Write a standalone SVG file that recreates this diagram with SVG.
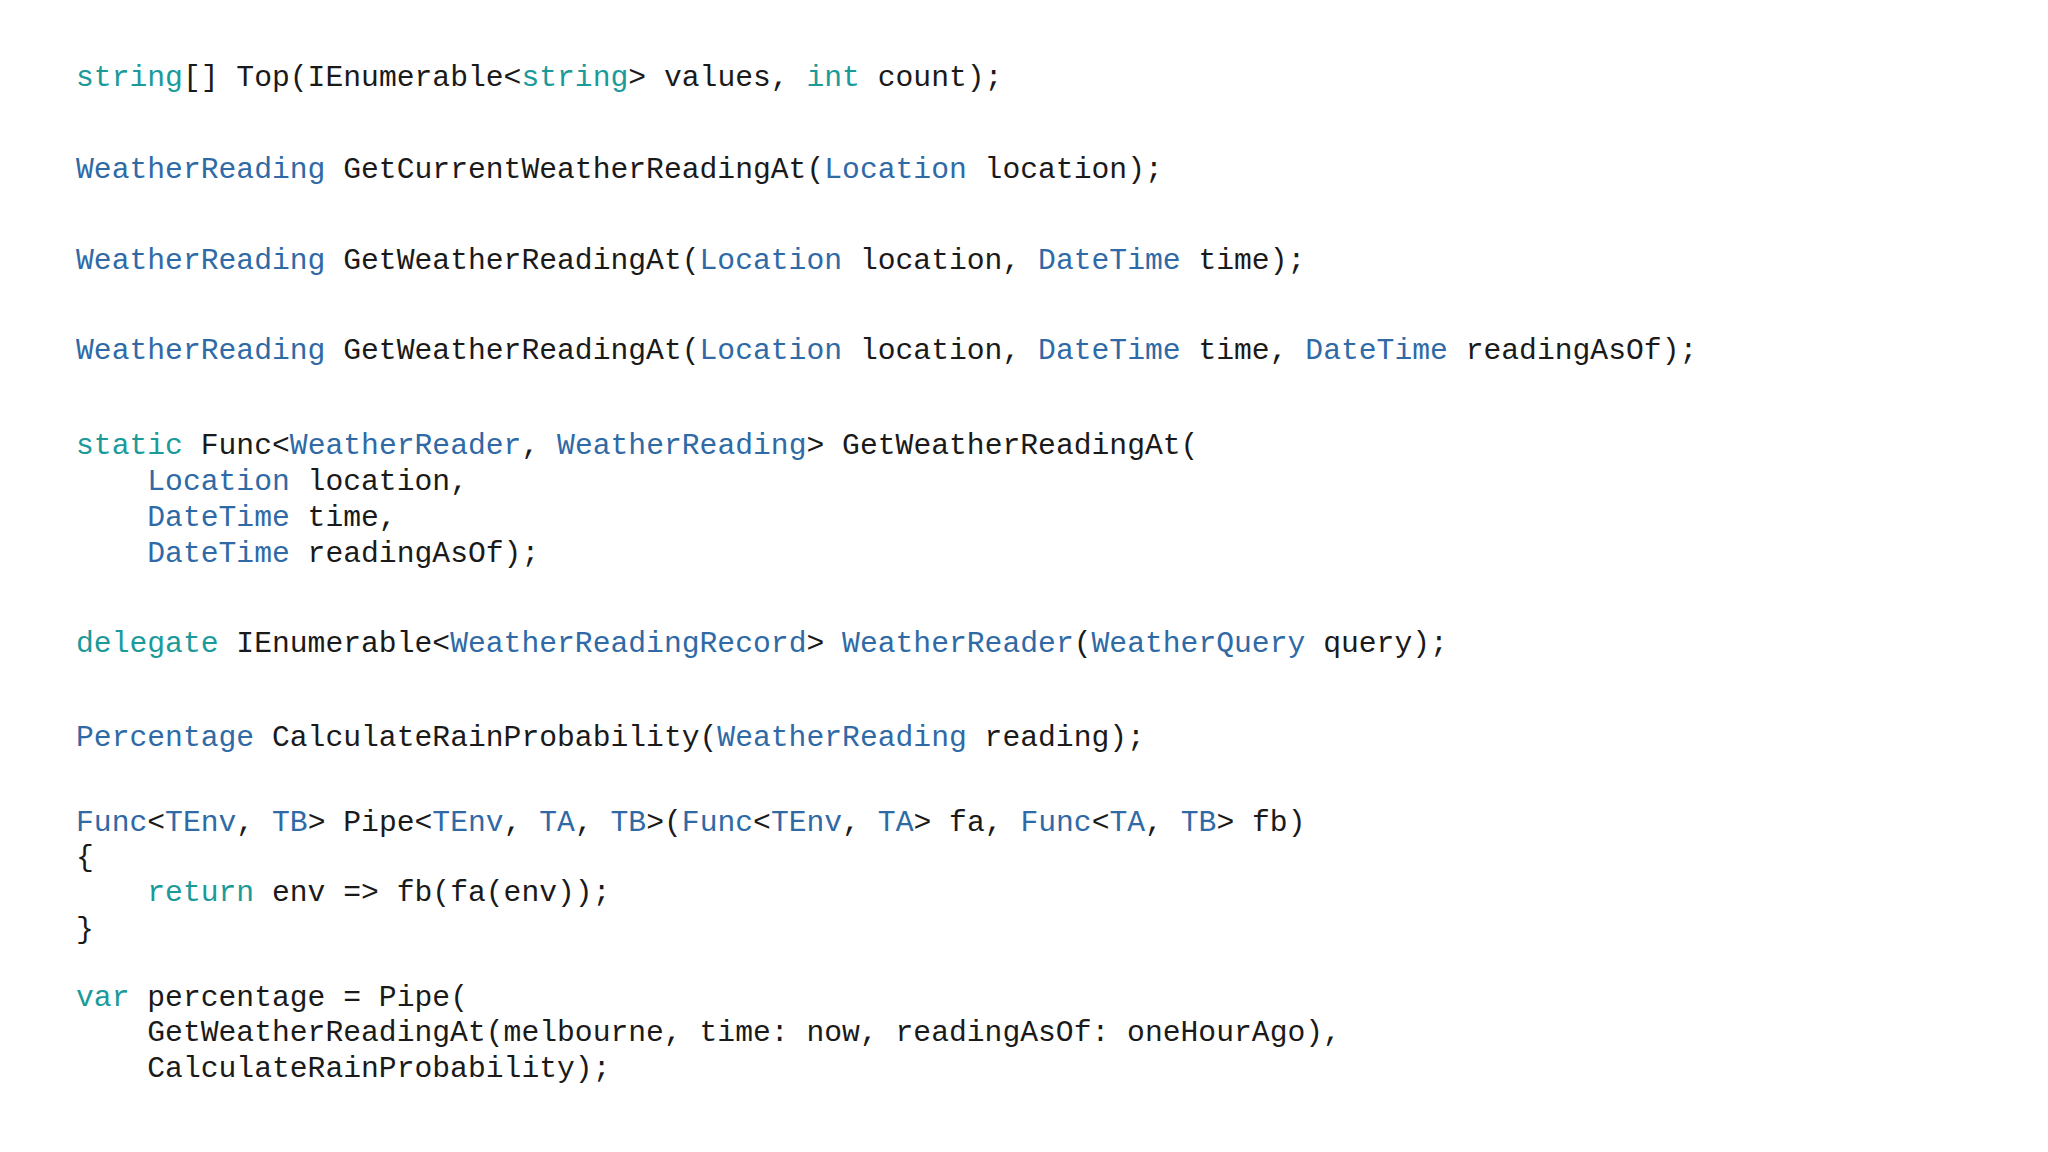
<svg xmlns="http://www.w3.org/2000/svg" width="2048" height="1152" viewBox="0 0 2048 1152">
<style>
text{font-family:"Liberation Mono","DejaVu Sans Mono",monospace;font-size:29.7px;fill:#1a1a1a;white-space:pre}
.k{fill:#1b9a9a}
.t{fill:#2f6aa6}
</style>
<rect width="2048" height="1152" fill="#ffffff"/>
<g id="code" xml:space="preserve">
<text x="76" y="86"><tspan class="k">string</tspan>[] Top(IEnumerable&lt;<tspan class="k">string</tspan>&gt; values, <tspan class="k">int</tspan> count);</text>
<text x="76" y="178"><tspan class="t">WeatherReading</tspan> GetCurrentWeatherReadingAt(<tspan class="t">Location</tspan> location);</text>
<text x="76" y="269"><tspan class="t">WeatherReading</tspan> GetWeatherReadingAt(<tspan class="t">Location</tspan> location, <tspan class="t">DateTime</tspan> time);</text>
<text x="76" y="359"><tspan class="t">WeatherReading</tspan> GetWeatherReadingAt(<tspan class="t">Location</tspan> location, <tspan class="t">DateTime</tspan> time, <tspan class="t">DateTime</tspan> readingAsOf);</text>
<text x="76" y="454"><tspan class="k">static</tspan> Func&lt;<tspan class="t">WeatherReader</tspan>, <tspan class="t">WeatherReading</tspan>&gt; GetWeatherReadingAt(</text>
<text x="76" y="490">    <tspan class="t">Location</tspan> location,</text>
<text x="76" y="526">    <tspan class="t">DateTime</tspan> time,</text>
<text x="76" y="562">    <tspan class="t">DateTime</tspan> readingAsOf);</text>
<text x="76" y="652"><tspan class="k">delegate</tspan> IEnumerable&lt;<tspan class="t">WeatherReadingRecord</tspan>&gt; <tspan class="t">WeatherReader</tspan>(<tspan class="t">WeatherQuery</tspan> query);</text>
<text x="76" y="746"><tspan class="t">Percentage</tspan> CalculateRainProbability(<tspan class="t">WeatherReading</tspan> reading);</text>
<text x="76" y="831"><tspan class="t">Func</tspan>&lt;<tspan class="t">TEnv</tspan>, <tspan class="t">TB</tspan>&gt; Pipe&lt;<tspan class="t">TEnv</tspan>, <tspan class="t">TA</tspan>, <tspan class="t">TB</tspan>&gt;(<tspan class="t">Func</tspan>&lt;<tspan class="t">TEnv</tspan>, <tspan class="t">TA</tspan>&gt; fa, <tspan class="t">Func</tspan>&lt;<tspan class="t">TA</tspan>, <tspan class="t">TB</tspan>&gt; fb)</text>
<text x="76" y="866">{</text>
<text x="76" y="901">    <tspan class="k">return</tspan> env =&gt; fb(fa(env));</text>
<text x="76" y="938">}</text>
<text x="76" y="1006"><tspan class="k">var</tspan> percentage = Pipe(</text>
<text x="76" y="1041">    GetWeatherReadingAt(melbourne, time: now, readingAsOf: oneHourAgo),</text>
<text x="76" y="1077">    CalculateRainProbability);</text>
</g>
</svg>
